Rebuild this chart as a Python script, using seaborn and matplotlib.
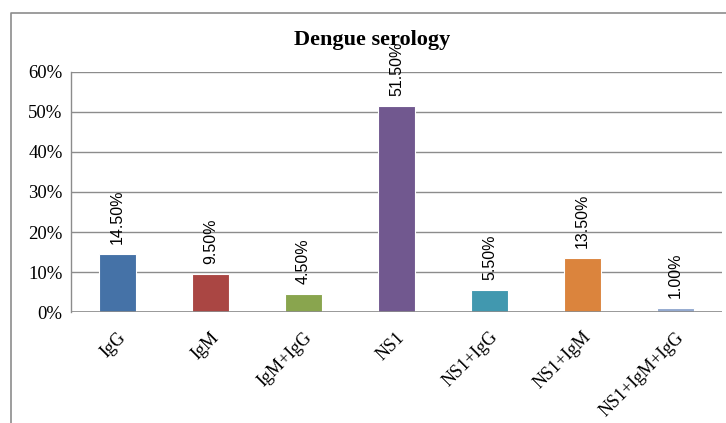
import numpy as np
import pandas as pd
import seaborn as sns
import matplotlib.pyplot as plt
from matplotlib.lines import Line2D

sns.set_style("white")

categories = ["IgG", "IgM", "IgM+IgG", "NS1", "NS1+IgG", "NS1+IgM", "NS1+IgM+IgG"]
percent = [14.5, 9.5, 4.5, 51.5, 5.5, 13.5, 1.0]
colors = ["#4572A7", "#AA4643", "#89A54E", "#71588F", "#4198AF", "#DB843D", "#93A9CF"]
yticks = [0, 10, 20, 30, 40, 50, 60]

df = pd.DataFrame({"test": categories, "pct": percent})

DPI = 100
fig = plt.figure(figsize=(7.26, 4.23), dpi=DPI)
ax = fig.add_axes([0.0978, 0.2624, 0.8967, 0.5674])

sns.barplot(data=df, x="test", y="pct", hue="test", palette=colors, legend=False,
            saturation=1, width=0.4, edgecolor="white", linewidth=0.8, ax=ax, zorder=3)

ax.set_ylim(0, 60)
ax.set_xlim(-0.5, len(categories) - 0.5)
ax.set_yticks(yticks)
ax.set_yticklabels([f"{t}%" for t in yticks], fontsize=13.5, family="Liberation Serif",
                   color="black")
ax.yaxis.grid(True, color="#8c8c8c", linewidth=1.0, zorder=0)
ax.set_axisbelow(True)
ax.set_xlabel("")
ax.set_ylabel("")
for s in ["top", "right", "bottom"]:
    ax.spines[s].set_visible(False)
ax.spines["left"].set_color("#8c8c8c")
ax.spines["left"].set_linewidth(1.0)
ax.axhline(0, color="#8c8c8c", linewidth=1.2, zorder=4)
ax.tick_params(axis="y", length=0, pad=6)
ax.tick_params(axis="x", length=0, pad=12)

ax.set_xticks(range(len(categories)))
ax.set_xticklabels(categories, rotation=45, ha="right", rotation_mode="anchor",
                   fontsize=13, family="Liberation Serif", color="black")

for i, v in enumerate(percent):
    ax.annotate(f"{v:.2f}%", (i, v), xytext=(0, 7.5), textcoords="offset points",
                rotation=90, ha="center", va="bottom", fontsize=11.5,
                family="Liberation Sans", color="black", zorder=6)

# title sits in the chart area, the NS1 label runs into it as in the original
fig.text(0.512, 0.905, "Dengue serology", ha="center", va="center",
         fontsize=16, fontweight="bold", family="Liberation Serif", color="black")

# outer chart-area border (left and top visible)
x0, y0 = 11 / 726, 1 - 13 / 423
fig.add_artist(Line2D([x0, x0, 1.0], [0.0, y0, y0], transform=fig.transFigure,
                      color="#8c8c8c", linewidth=1.2))

fig.savefig("out.png", dpi=DPI)
